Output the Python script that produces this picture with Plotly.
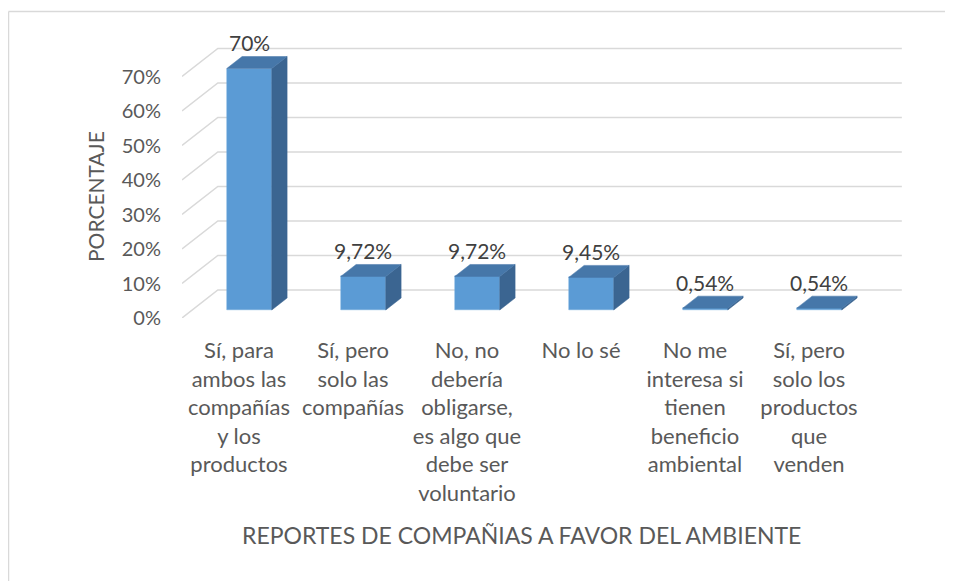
import plotly.graph_objects as go

# ---------------- data ----------------
categories = [
    "Sí, para<br>ambos las<br>compañías<br>y los<br>productos",
    "Sí, pero<br>solo las<br>compañías",
    "No, no<br>debería<br>obligarse,<br>es algo que<br>debe ser<br>voluntario",
    "No lo sé",
    "No me<br>interesa si<br>tienen<br>beneficio<br>ambiental",
    "Sí, pero<br>solo los<br>productos<br>que<br>venden",
]
values = [70, 9.72, 9.72, 9.45, 0.54, 0.54]
value_labels = ["70%", "9,72%", "9,72%", "9,45%", "0,54%", "0,54%"]
y_ticks = [0, 10, 20, 30, 40, 50, 60, 70]
y_tick_labels = ["0%", "10%", "20%", "30%", "40%", "50%", "60%", "70%"]
x_title = "REPORTES DE COMPAÑIAS A FAVOR DEL AMBIENTE"
y_title = "PORCENTAJE"

# ---------------- layout geometry (page pixels) ----------------
OFF = 8                     # page body margin
W, H = 953 - OFF, 581 - OFF
PL, PR, PT, PB = 182 - OFF, 902 - OFF, 30 - OFF, 318 - OFF
CAT_PX = 114.0              # pixels per category
PX_PER_PCT = 3.45           # pixels per percent
SLANT = 1.28                # horizontal shift per depth pixel
Z_BAR_FRONT, Z_BAR_BACK, Z_WALL = 8, 20, 28
BAR_W = 0.395

def dx(z):
    return SLANT * z / CAT_PX

def dy(z):
    return z / PX_PER_PCT

x_range = [-0.5, -0.5 + (PR - PL) / CAT_PX]
y_range = [0, (PB - PT) / PX_PER_PCT]

FRONT = "#5b9bd5"
TOP = "#4677a9"
SIDE = "#3b6591"
GRID = "#d9d9d9"
TXT = "#595959"
FONT = "Lato"

fig = go.Figure()
n = len(categories)

# gridlines: left wall diagonal + back wall (drawn below the bars)
for v in y_ticks:
    fig.add_shape(type="path", xref="x", yref="y", layer="below",
                  path="M {} {} L {} {} L {} {}".format(
                      -0.5, v,
                      -0.5 + dx(Z_WALL), v + dy(Z_WALL),
                      n - 0.5 + dx(Z_WALL), v + dy(Z_WALL)),
                  line=dict(color=GRID, width=1.5))

dz = Z_BAR_BACK - Z_BAR_FRONT
for i, v in enumerate(values):
    xc = i + dx(Z_BAR_FRONT)
    xl, xr = xc - BAR_W / 2, xc + BAR_W / 2
    b = dy(Z_BAR_FRONT)
    # side face
    fig.add_trace(go.Scatter(
        x=[xr, xr, xr + dx(dz), xr + dx(dz), xr],
        y=[b, b + v, b + v + dy(dz), b + dy(dz), b],
        mode="lines", fill="toself", fillcolor=SIDE,
        line=dict(color=SIDE, width=0.5), hoverinfo="skip", showlegend=False))
    # top face
    fig.add_trace(go.Scatter(
        x=[xl, xr, xr + dx(dz), xl + dx(dz), xl],
        y=[b + v, b + v, b + v + dy(dz), b + v + dy(dz), b + v],
        mode="lines", fill="toself", fillcolor=TOP,
        line=dict(color=TOP, width=0.5), hoverinfo="skip", showlegend=False))

# front faces
fig.add_trace(go.Bar(
    x=[i + dx(Z_BAR_FRONT) for i in range(n)], y=values,
    base=[dy(Z_BAR_FRONT)] * n, width=BAR_W,
    marker=dict(color=FRONT, line=dict(color="#6fa8dc", width=0.5)),
    hoverinfo="skip", showlegend=False))

# data labels
for i, (v, t) in enumerate(zip(values, value_labels)):
    fig.add_annotation(
        x=i + dx(Z_BAR_FRONT), y=v + dy(Z_BAR_BACK), text=t,
        showarrow=False, xanchor="center", yanchor="middle", yshift=14,
        font=dict(family=FONT, size=21, color="#404040"))

def px_x(p):
    return (p - OFF - PL) / (PR - PL)

def px_y(p):
    return (PB - (p - OFF)) / (PB - PT)

# axis titles
fig.add_annotation(x=px_x(521), y=px_y(535), xref="paper", yref="paper",
                   xanchor="center", yanchor="middle",
                   text=x_title, showarrow=False,
                   font=dict(family=FONT, size=23, color=TXT))
fig.add_annotation(x=px_x(95), y=px_y(197), xref="paper", yref="paper",
                   xanchor="center", yanchor="middle",
                   text=y_title, showarrow=False, textangle=-90,
                   font=dict(family=FONT, size=21, color=TXT))

# chart border (top and left visible)
fig.add_shape(type="line", xref="paper", yref="paper",
              x0=px_x(8.5), x1=px_x(960), y0=px_y(11.5), y1=px_y(11.5),
              line=dict(color=GRID, width=1.5))
fig.add_shape(type="line", xref="paper", yref="paper",
              x0=px_x(8.5), x1=px_x(8.5), y0=px_y(11.5), y1=px_y(590),
              line=dict(color=GRID, width=1.5))

fig.update_layout(
    width=W, height=H,
    margin=dict(l=PL, r=W - PR, t=PT, b=H - PB),
    paper_bgcolor="white", plot_bgcolor="white",
    bargap=0,
    font=dict(family=FONT, color=TXT, size=21),
    xaxis=dict(range=x_range, tickvals=list(range(n)), ticktext=categories,
               showgrid=False, zeroline=False, showline=False, ticks="",
               ticklabelstandoff=17,
               tickfont=dict(family=FONT, size=22, color=TXT)),
    yaxis=dict(range=y_range, tickvals=y_ticks, ticktext=y_tick_labels,
               showgrid=False, zeroline=False, showline=False, ticks="",
               ticklabelstandoff=20,
               tickfont=dict(family=FONT, size=20, color=TXT)),
)

fig.write_html("out.html")
